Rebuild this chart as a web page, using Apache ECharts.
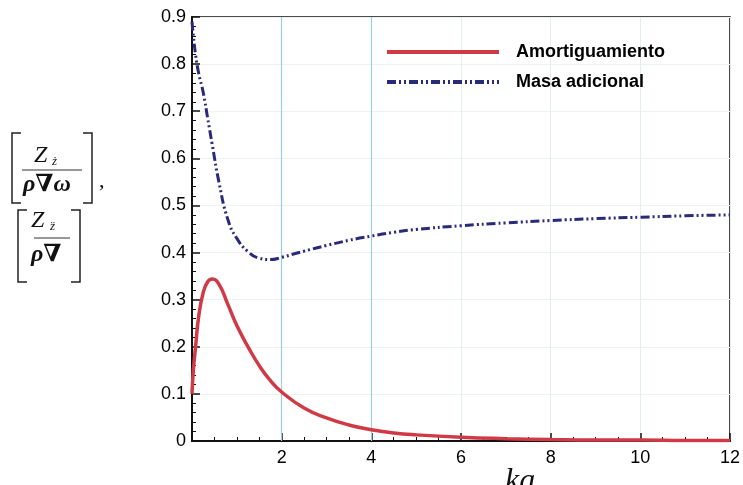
<!DOCTYPE html>
<html>
<head>
<meta charset="utf-8">
<script src="https://cdn.jsdelivr.net/npm/echarts@6/dist/echarts.min.js"></script>
<style>
  html, body { margin: 0; padding: 0; background: #fff; }
  #chart { width: 743px; height: 485px; }
</style>
</head>
<body>
<div id="chart"></div>
<script>
// Data
var kaVals = [0, 0.03, 0.08, 0.15, 0.25, 0.35, 0.45, 0.6, 0.8, 1.0, 1.25, 1.5, 1.75, 2.0, 2.5, 3.0, 3.5, 4.0, 4.5, 5.0, 6.0, 7.0, 8.0, 9.0, 10.0, 11.0, 12.0];
var amortiguamiento = [0.10, 0.15, 0.20, 0.265, 0.315, 0.338, 0.344, 0.333, 0.29, 0.245, 0.20, 0.16, 0.128, 0.104, 0.07, 0.049, 0.034, 0.024, 0.017, 0.013, 0.008, 0.005, 0.003, 0.002, 0.002, 0.001, 0.001];
var masaAdicional = [0.89, 0.86, 0.82, 0.78, 0.74, 0.685, 0.63, 0.55, 0.47, 0.43, 0.402, 0.388, 0.385, 0.39, 0.403, 0.415, 0.426, 0.435, 0.443, 0.449, 0.457, 0.463, 0.468, 0.472, 0.475, 0.478, 0.48];
var seriesNames = ['Amortiguamiento', 'Masa adicional'];
var xTicks = [2, 4, 6, 8, 10, 12];

var toPairs = function (ys) {
    return kaVals.map(function (x, i) { return [x, ys[i]]; });
};

var serif = '"Liberation Serif", "DejaVu Serif", serif';
var sans = 'Arial, "Liberation Sans", sans-serif';

var chart = echarts.init(document.getElementById('chart'));

var option = {
    animation: false,
    backgroundColor: '#fff',
    textStyle: { fontFamily: sans },

    // Plot frame
    grid: {
        left: 192,
        right: 11,
        top: 17,
        bottom: 44,
        show: true,
        borderColor: '#111',
        borderWidth: 1.5
    },

    legend: {
        orient: 'vertical',
        left: 380,
        top: 38,
        itemWidth: 112,
        itemHeight: 14,
        itemGap: 12,
        data: seriesNames,
        itemStyle: { opacity: 0 },
        lineStyle: { width: 4 },
        textStyle: {
            fontFamily: sans,
            fontSize: 18,
            fontWeight: 'bold',
            color: '#000',
            padding: [0, 0, 0, 12]
        }
    },

    xAxis: {
        type: 'value',
        min: 0,
        max: 12,
        interval: 2,
        axisLine: { lineStyle: { color: '#111', width: 2 } },
        axisTick: { inside: true, length: 8, lineStyle: { color: '#111', width: 1.5 } },
        minorTick: { show: true, splitNumber: 4, length: 4, lineStyle: { color: '#111', width: 1 } },
        axisLabel: {
            color: '#000',
            fontSize: 18,
            margin: 8,
            formatter: function (v) { return xTicks.indexOf(v) >= 0 ? String(v) : ''; }
        },
        splitLine: { show: true, lineStyle: { color: '#e4eef1', width: 1 } }
    },

    yAxis: {
        type: 'value',
        min: 0,
        max: 0.9,
        interval: 0.1,
        axisLine: { lineStyle: { color: '#111', width: 2 } },
        axisTick: { inside: true, length: 8, lineStyle: { color: '#111', width: 1.5 } },
        minorTick: { show: true, splitNumber: 5, length: 4, lineStyle: { color: '#111', width: 1 } },
        axisLabel: {
            color: '#000',
            fontSize: 18,
            margin: 6,
            formatter: function (v) { return v === 0 ? '0' : v.toFixed(1); }
        },
        splitLine: { show: true, lineStyle: { color: '#eef2f2', width: 1 } }
    },

    series: [
        {
            name: seriesNames[0],
            type: 'line',
            data: toPairs(amortiguamiento),
            smooth: true,
            showSymbol: false,
            symbol: 'none',
            z: 4,
            lineStyle: { color: '#cf3a46', width: 3.5 },
            itemStyle: { color: '#cf3a46' },
            markLine: {
                silent: true,
                symbol: 'none',
                label: { show: false },
                lineStyle: { color: '#98cfe6', width: 1.2, type: 'solid' },
                data: [{ xAxis: 2 }, { xAxis: 4 }],
                z: 1
            }
        },
        {
            name: seriesNames[1],
            type: 'line',
            data: toPairs(masaAdicional),
            smooth: true,
            showSymbol: false,
            symbol: 'none',
            z: 3,
            lineStyle: { color: '#2a2a7a', width: 3, type: [9, 3, 2, 3, 2, 3] },
            itemStyle: { color: '#2a2a7a' }
        }
    ],

    // Axis titles (formula on the left, ka below)
    graphic: [
        // first bracket [ Z_ż / ρ∇ω ],
        { type: 'polyline', shape: { points: [[21, 133], [12, 133], [12, 203], [21, 203]] }, style: { stroke: '#222', lineWidth: 1.5, fill: null } },
        { type: 'polyline', shape: { points: [[83, 133], [92, 133], [92, 203], [83, 203]] }, style: { stroke: '#222', lineWidth: 1.5, fill: null } },
        { type: 'text', left: 34, top: 144, style: { text: 'Z', font: 'italic 24px ' + serif, fill: '#111' } },
        { type: 'text', left: 52, top: 155, style: { text: 'ż', font: 'italic 13px ' + serif, fill: '#111' } },
        { type: 'line', shape: { x1: 22, y1: 170, x2: 82, y2: 170 }, style: { stroke: '#333', lineWidth: 1.2 } },
        { type: 'text', left: 23, top: 173, style: { text: 'ρ∇ω', font: 'italic bold 24px ' + serif, fill: '#111' } },
        { type: 'text', left: 99, top: 170, style: { text: ',', font: '22px ' + serif, fill: '#111' } },
        // second bracket [ Z_z̈ / ρ∇ ]
        { type: 'polyline', shape: { points: [[27, 210], [18, 210], [18, 282], [27, 282]] }, style: { stroke: '#222', lineWidth: 1.5, fill: null } },
        { type: 'polyline', shape: { points: [[71, 210], [80, 210], [80, 282], [71, 282]] }, style: { stroke: '#222', lineWidth: 1.5, fill: null } },
        { type: 'text', left: 31, top: 209, style: { text: 'Z', font: 'italic 24px ' + serif, fill: '#111' } },
        { type: 'text', left: 50, top: 220, style: { text: 'z̈', font: 'italic 13px ' + serif, fill: '#111' } },
        { type: 'line', shape: { x1: 34, y1: 238, x2: 70, y2: 238 }, style: { stroke: '#333', lineWidth: 1.2 } },
        { type: 'text', left: 31, top: 243, style: { text: 'ρ∇', font: 'italic bold 24px ' + serif, fill: '#111' } },
        // x-axis title
        { type: 'text', left: 505, top: 466, style: { text: 'ka', font: 'italic 32px ' + serif, fill: '#111' } }
    ]
};

chart.setOption(option);
</script>
</body>
</html>
